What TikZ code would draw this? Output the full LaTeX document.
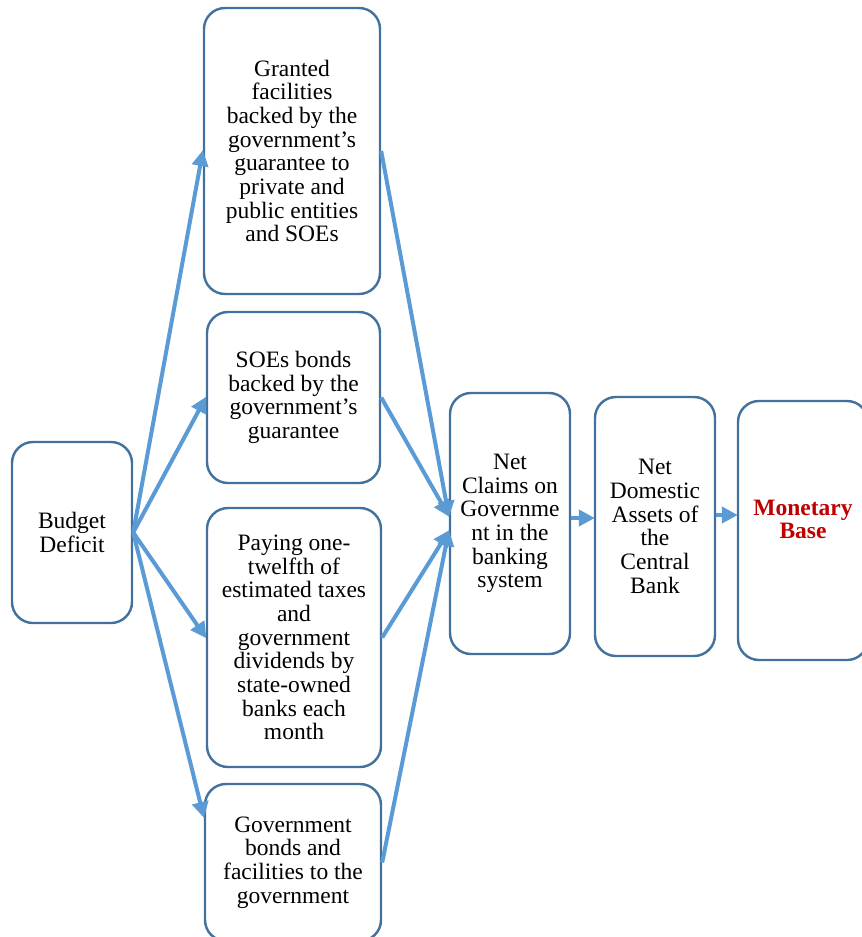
\documentclass[tikz,border=0pt]{standalone}
\usepackage{fontspec}
\setmainfont{Liberation Serif}
\usetikzlibrary{arrows.meta}
\definecolor{boxblue}{HTML}{41719C}
\definecolor{arrowblue}{HTML}{5B9BD5}
\definecolor{mbred}{HTML}{C00000}
\tikzset{
  box/.style={draw=boxblue, line width=2.4pt, rounded corners=21pt, fill=white,
    align=center, inner sep=0pt, font=\fontsize{23.5}{23.7}\selectfont},
  conn/.style={draw=arrowblue, line width=4pt,
    -{Triangle[length=16pt,width=16pt]}, shorten >=-1pt},
  boxtext/.style={align=center, inner sep=0pt, font=\fontsize{23.5}{23.7}\selectfont}
}
\begin{document}
\begin{tikzpicture}[x=1pt,y=-1pt]
\useasboundingbox (0,0) rectangle (862,937);
\clip (0,0) rectangle (862,937);
\fill[white] (0,0) rectangle (862,937);

\node[box, minimum width=120pt, minimum height=181pt] (bd) at (72,532.5) {Budget\\Deficit};
\node[box, minimum width=176pt, minimum height=286pt] (b1) at (292,151)
  {Granted\\facilities\\backed by the\\government’s\\guarantee to\\private and\\public entities\\and SOEs};
\node[box, minimum width=173pt, minimum height=171pt] (b2) at (293.5,397.5)
  {SOEs bonds\\backed by the\\government’s\\guarantee};
\node[box, minimum width=174pt, minimum height=259pt] (b3) at (294,637.5)
  {Paying one-\\twelfth of\\estimated taxes\\and\\government\\dividends by\\state-owned\\banks each\\month};
\node[box, minimum width=176pt, minimum height=157pt] (b4) at (293,862.5)
  {Government\\bonds and\\facilities to the\\government};
\node[box, minimum width=120pt, minimum height=261pt] (nc) at (510,523.5)
  {Net\\Claims on\\Governme\\nt in the\\banking\\system};
\node[box, minimum width=120pt, minimum height=259pt] (nd) at (655,526.5)
  {Net\\Domestic\\Assets of\\the\\Central\\Bank};
\node[box, minimum width=130pt, minimum height=259pt] (mb) at (803,530.5) {};
\node[boxtext, text=mbred, font=\fontsize{23.5}{23.7}\selectfont\bfseries] (mbt) at (803,519.5) {Monetary\\Base};

\draw[conn] (bd.east) -- (b1.west);
\draw[conn] (bd.east) -- (b2.west);
\draw[conn] (bd.east) -- (b3.west);
\draw[conn] (bd.east) -- ([yshift=45.5pt]b4.west);

\draw[conn] (b1.east) -- ([yshift=7.5pt]nc.west);
\draw[conn] (b2.east) -- ([yshift=7.5pt]nc.west);
\draw[conn] (b3.east) -- ([yshift=-7.5pt]nc.west);
\draw[conn] (b4.east) -- ([yshift=-7.5pt]nc.west);

\draw[conn] ([yshift=5.5pt]nc.east) -- ([yshift=5.5pt]nc.east -| nd.west);
\draw[conn] ([yshift=11.5pt]nd.east) -- ([yshift=11.5pt]nd.east -| mb.west);
\end{tikzpicture}
\end{document}
